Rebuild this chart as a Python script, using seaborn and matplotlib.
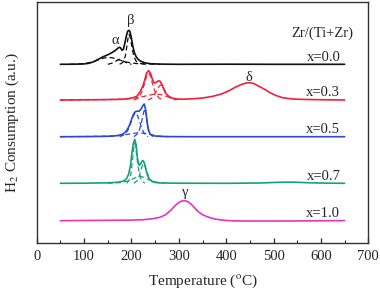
import numpy as np
import pandas as pd
import matplotlib
matplotlib.use("Agg")
import matplotlib.pyplot as plt
from matplotlib.ticker import MultipleLocator
import seaborn as sns

# composition labels and vertical offsets of each trace (a.u.)
labels = ["x=0.0", "x=0.3", "x=0.5", "x=0.7", "x=1.0"]
offsets = [178.7, 143.0, 106.3, 59.7, 22.3]
colors = ["#111111", "#f41f3a", "#2a48d4", "#15a27a", "#e434c4"]

# measured TPR traces (temperature in degC, signal above baseline)
t_00 = [50, 80, 100, 110, 120, 130, 140, 150, 158, 165, 170, 174, 177, 180, 183, 186, 189,
        192, 195, 197, 200, 203, 206, 210, 215, 220, 228, 240, 260, 300, 400, 500, 650]
h_00 = [0, 0.1, 0.4, 1.0, 2.5, 5, 7.5, 9.5, 11.5, 13.5, 15.5, 17, 16.5, 14, 15, 21, 28,
        33, 34, 32.5, 26, 18, 12, 7.5, 4.5, 3, 1.5, 0.6, 0.2, 0, 0.1, 0, 0]

t_03 = [50, 100, 150, 180, 195, 205, 212, 218, 224, 228, 232, 236, 240, 244, 248, 252, 256,
        260, 264, 268, 272, 278, 285, 295, 310, 330, 350, 370, 390, 405, 420, 432, 442, 450,
        458, 468, 480, 492, 505, 520, 540, 570, 610, 650]
h_03 = [0, 0.2, 0.4, 0.7, 1.5, 2.5, 4, 8, 14, 20, 27, 29.3, 27, 21, 17, 17.5, 19,
        19, 16, 11, 7, 4, 2, 1, 0.8, 1.2, 2, 3.5, 6, 9, 13, 15.5, 17, 17.3,
        16.5, 14, 11, 7.5, 4.5, 2.2, 1, 0.5, 0.2, 0]

t_05 = [50, 100, 140, 160, 172, 180, 186, 191, 196, 200, 204, 208, 212, 216, 220, 224, 227,
        230, 233, 236, 240, 245, 252, 262, 280, 320, 400, 500, 650]
h_05 = [0, 0.1, 0.3, 0.6, 1.2, 2.2, 4, 7, 11.5, 17, 22, 25, 25.5, 25.5, 27.5, 31, 32.7,
        27, 15, 6, 2.5, 1.2, 0.6, 0.3, 0.1, 0, 0, 0, 0]

t_07 = [50, 100, 150, 170, 180, 186, 190, 194, 198, 201, 204, 207, 210, 213, 216, 219, 222,
        225, 228, 231, 234, 238, 243, 250, 260, 280, 320, 400, 470, 510, 540, 570, 610, 650]
h_07 = [0, 0.1, 0.5, 1, 1.8, 3, 5, 9, 18, 30, 40, 44, 38, 24, 18, 19, 22,
        22.7, 19, 13, 8, 4, 2, 0.9, 0.4, 0.2, 0.1, 0, 0.3, 1, 1.2, 0.6, 0.2, 0]

t_10 = [50, 100, 150, 200, 225, 245, 260, 272, 282, 290, 298, 305, 312, 318, 325, 333, 341,
        350, 360, 370, 380, 392, 405, 420, 450, 500, 560, 620, 650]
h_10 = [0, 0.2, 0.4, 0.6, 1, 2, 3.4, 6, 10, 14, 17.5, 19.5, 20, 19.3, 17, 13, 9,
        6, 4, 2.4, 1.4, 0.6, 0.1, -0.2, -0.3, -0.3, -0.2, 0, 0.1]

temps = [t_00, t_03, t_05, t_07, t_10]
signals = [h_00, h_03, h_05, h_07, h_10]

# deconvoluted components (dashed), per trace
fits = [
    [([70, 90, 110, 125, 140, 150, 160, 170, 180, 190, 200, 215, 235, 260],
      [0, 0.3, 1.5, 3.5, 6, 7, 6.5, 5, 3.5, 2.2, 1.3, 0.6, 0.2, 0]),
     ([150, 158, 165, 170, 175, 180, 186, 192, 200],
      [0, 1, 2.5, 4, 5, 4, 2.5, 1, 0]),
     ([175, 182, 187, 190, 193, 195, 198, 201, 205, 210, 218, 230],
      [0, 2, 8, 17, 27, 30, 26, 17, 8, 3, 1, 0])],
    [([205, 215, 222, 228, 232, 236, 240, 244, 250, 258, 268],
      [0, 2, 8, 17, 24, 27, 24, 17, 8, 2, 0]),
     ([235, 242, 248, 254, 258, 262, 266, 270, 276, 284, 295],
      [0, 1.5, 5, 10, 13.5, 15, 13.5, 10, 5, 1.5, 0]),
     ([50, 100, 150, 190, 215, 235, 250, 262, 275, 290, 305],
      [0, 0.2, 0.5, 1, 2.5, 4.5, 6, 5.5, 3.5, 1.2, 0])],
    [([175, 185, 192, 198, 203, 208, 213, 218, 223, 228, 235],
      [0, 2, 6, 13, 20, 24, 21, 14, 7, 2.5, 0]),
     ([205, 212, 217, 221, 225, 228, 231, 234, 238, 245],
      [0, 2.5, 7, 14, 23, 28, 22, 12, 4, 0]),
     ([50, 100, 150, 180, 200, 215, 230, 245, 260, 280],
      [0, 0.2, 0.5, 1.5, 3, 4, 3.2, 1.5, 0.5, 0])],
    [([190, 195, 199, 202, 205, 207, 209, 212, 216, 221, 228],
      [0, 3, 10, 22, 35, 40, 36, 24, 11, 3, 0]),
     ([205, 212, 217, 221, 225, 229, 233, 238, 245, 252],
      [0, 2.5, 8, 15, 20, 17, 11, 5, 1.5, 0]),
     ([150, 175, 190, 200, 210, 218, 226, 235, 245, 258, 270],
      [0, 0.7, 2, 3.8, 6, 7, 6, 4, 2, 0.6, 0])],
    [],
]

# peak labels: (symbol, temperature, height above its trace baseline, trace index)
peaks = [("α", 165, 24, 0), ("β", 199, 44, 0), ("δ", 447, 23, 1), ("γ", 313, 28, 4)]

sns.set_theme(style="ticks")
plt.rcParams["font.family"] = ["Liberation Serif", "DejaVu Serif"]
plt.rcParams["mathtext.fontset"] = "stix"

fig = plt.figure(figsize=(3.8, 2.93), dpi=100)
ax = fig.add_axes([0.0966, 0.1706, 0.8726, 0.8236])

for t, h, off, c in zip(temps, signals, offsets, colors):
    sns.lineplot(x=t, y=np.array(h) + off, color=c, lw=1.2, ax=ax)

for comps, off, c in zip(fits, offsets, colors):
    for t, h in comps:
        sns.lineplot(x=t, y=np.array(h) + off, color=c, lw=0.9,
                     dashes=False, ax=ax).lines[-1].set_dashes((4, 2.5))

for lab, off in zip(labels, offsets):
    ax.text(641, off + 0.8, lab, ha="right", va="bottom", fontsize=10.5)

for sym, t, dh, i in peaks:
    ax.text(t, offsets[i] + dh, sym, ha="center", va="center", fontsize=10.5)

ax.text(668, 210, "Zr/(Ti+Zr)", ha="right", va="center", fontsize=10.5)

ax.set_xlim(0, 700)
ax.set_ylim(0, 241.3)
ax.xaxis.set_major_locator(MultipleLocator(100))
ax.xaxis.set_minor_locator(MultipleLocator(50))
ax.tick_params(axis="x", which="both", direction="in", labelsize=10.5, pad=5)
ax.tick_params(axis="x", which="major", length=3.5, width=0.9)
ax.tick_params(axis="x", which="minor", length=2, width=0.8)
ax.set_yticks([])
for s in ax.spines.values():
    s.set_visible(True)
    s.set_linewidth(1.0)
    s.set_color("#333333")

ax.set_xlabel("Temperature ($^{\\rm o}$C)", fontsize=11, labelpad=7)
ax.set_ylabel("H$_2$ Consumption (a.u.)", fontsize=11, labelpad=11)

fig.savefig("out.png", dpi=100)
